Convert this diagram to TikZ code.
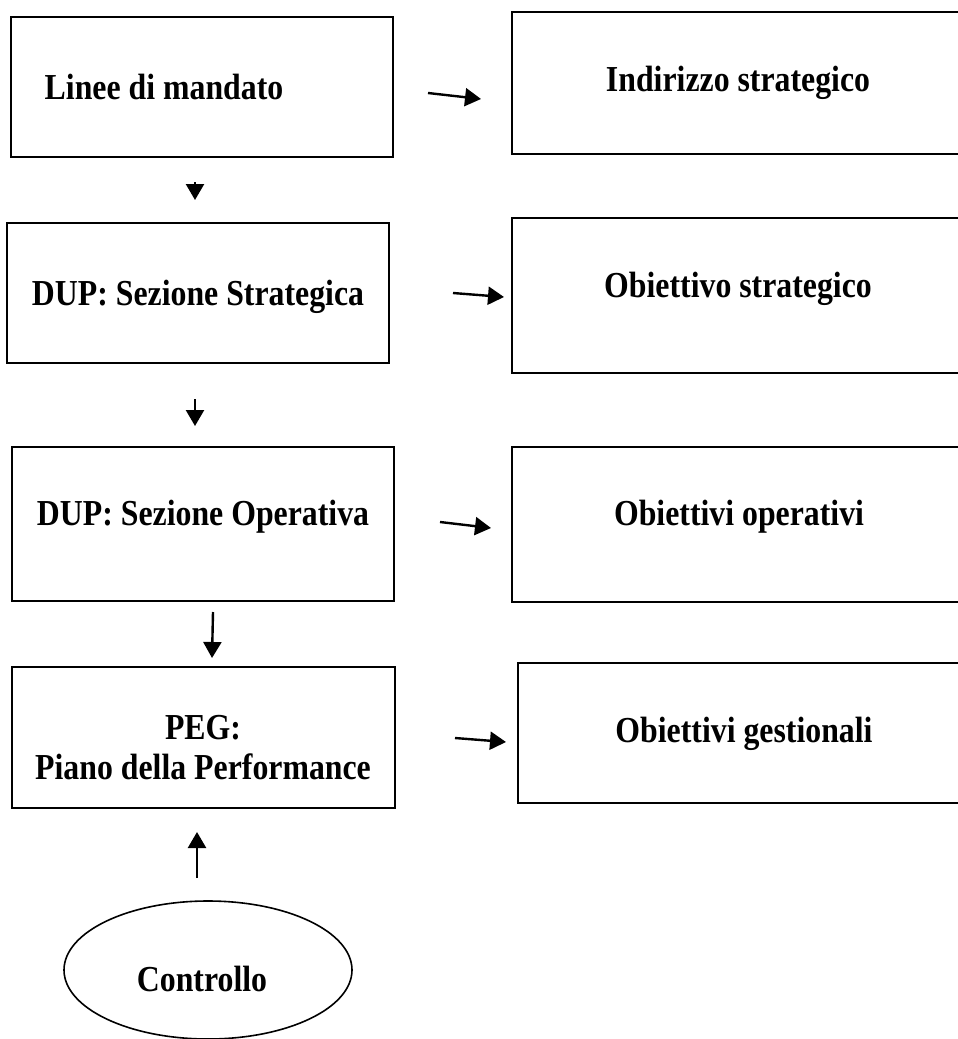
\documentclass[tikz,border=0pt]{standalone}
\usepackage{fontspec}
\usepackage{graphicx}
\setmainfont{Liberation Serif}
\usetikzlibrary{arrows.meta,shapes.geometric}
\newcommand{\tallTxt}[1]{\scalebox{1}[1.15]{#1}}
\tikzset{
  flow/box/.style={
    draw=black,
    line width=2pt,
    fill=white,
    minimum width=382pt,
    minimum height=140pt,
    inner sep=0pt
  },
  flow/goal/.style={flow/box, minimum width=452pt},
  flow/oval/.style={
    ellipse,
    draw=black,
    line width=1.6pt,
    minimum width=288pt,
    minimum height=138pt,
    inner sep=0pt
  },
  flow/text/.style={font=\bfseries\fontsize{31.8}{40}\selectfont, align=center, inner sep=0pt},
  flow/arrow/.style={-{Triangle[length=16pt,width=18pt]}, line width=2.4pt}
}
\begin{document}
\begin{tikzpicture}[x=1pt,y=-1pt]
  \useasboundingbox (0,0) rectangle (958,1039);
  % left column
  \node[flow/box] (linee) at (202,87) {};
  \node[flow/box] (strat) at (198,293) {};
  \node[flow/box,minimum height=154pt] (oper) at (203,524) {};
  \node[flow/box,minimum width=383pt,minimum height=141pt] (peg) at (203.5,737.5) {};
  \node[flow/oval] (ctrl) at (208,970) {};
  % right column
  \node[flow/goal,minimum height=142pt] (indir) at (738,83) {};
  \node[flow/goal,minimum height=155pt] (obstrat) at (738,295.5) {};
  \node[flow/goal,minimum height=155pt] (oboper) at (738,524.5) {};
  \node[flow/goal,line width=2.6pt] (obgest) at (744,733) {};
  % texts
  \node[flow/text] (lineeTxt) at (164,87) {\tallTxt{Linee di mandato}};
  \node[flow/text] (stratTxt) at (198,297) {\tallTxt{DUP: Sezione Strategica}};
  \node[flow/text] (operTxt) at (203,517) {\tallTxt{DUP: Sezione Operativa}};
  \node[flow/text] (pegTxt) at (203,748) {\tallTxt{PEG:}\\\tallTxt{Piano della Performance}};
  \node[flow/text] (ctrlTxt) at (202,979) {\tallTxt{Controllo}};
  \node[flow/text] (indirTxt) at (738,83) {\tallTxt{Indirizzo strategico}};
  \node[flow/text] (obstratTxt) at (738,289) {\tallTxt{Obiettivo strategico}};
  \node[flow/text] (oboperTxt) at (739,517) {\tallTxt{Obiettivi operativi}};
  \node[flow/text] (obgestTxt) at (744,734) {\tallTxt{Obiettivi gestionali}};
  % arrow ends
  \coordinate (d1s) at (195,182);
  \coordinate (d1e) at (195,200);
  \coordinate (d2s) at (195,399);
  \coordinate (d2e) at (195,426);
  \coordinate (d3s) at (213,612);
  \coordinate (d3e) at (212,658);
  \coordinate (ups) at (197,878);
  \coordinate (upe) at (197,832);
  \coordinate (r1s) at (428,93);
  \coordinate (r1e) at (481,99);
  \coordinate (r2s) at (453,293);
  \coordinate (r2e) at (504,297);
  \coordinate (r3s) at (440,522);
  \coordinate (r3e) at (491,528);
  \coordinate (r4s) at (455,738);
  \coordinate (r4e) at (506,742);
  \draw[flow/arrow] (d1s) -- (d1e);
  \draw[flow/arrow] (d2s) -- (d2e);
  \draw[flow/arrow] (d3s) -- (d3e);
  \draw[flow/arrow] (ups) -- (upe);
  \draw[flow/arrow] (r1s) -- (r1e);
  \draw[flow/arrow] (r2s) -- (r2e);
  \draw[flow/arrow] (r3s) -- (r3e);
  \draw[flow/arrow] (r4s) -- (r4e);
\end{tikzpicture}
\end{document}
